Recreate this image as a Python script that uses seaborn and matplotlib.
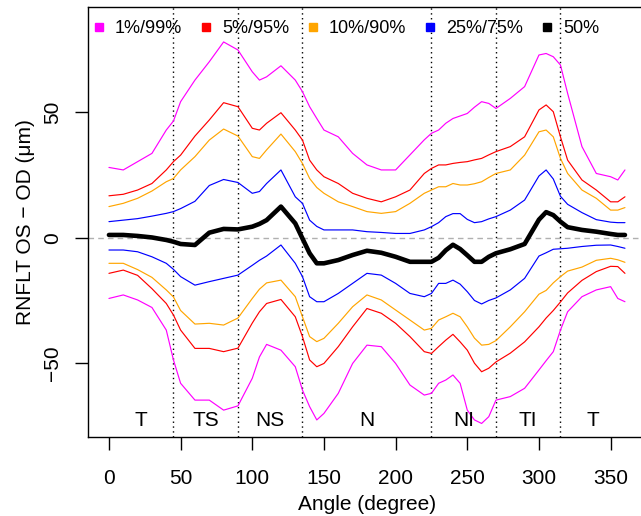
import matplotlib
matplotlib.use("Agg")
import matplotlib.pyplot as plt
from matplotlib.lines import Line2D
import seaborn as sns
import pandas as pd

# ---- data ----
angles = [0, 10, 20, 30, 40, 45, 50, 60, 70, 80, 90, 100, 105, 110, 120,
          130, 135, 140, 145, 150, 160, 170, 180, 190, 200, 210, 220, 225,
          230, 235, 240, 245, 250, 255, 260, 265, 270, 280, 290, 300, 305,
          310, 315, 320, 330, 340, 350, 355, 360]

p99 = [28.0, 27.0, 30.3, 33.6, 42.9, 46.5, 54.2, 62.8, 70.1, 78.0, 74.8, 66.1, 62.8, 64.1, 68.5,
       62.8, 58.2, 52.2, 47.5, 42.9, 40.2, 33.6, 29.0, 27.0, 27.0, 33.0, 39.0, 41.6,
       42.9, 45.6, 47.5, 48.5, 49.5, 52.0, 54.2, 53.5, 51.5, 55.5, 60.2, 72.8, 73.4,
       72.1, 68.8, 57.5, 36.3, 25.6, 24.3, 23.0, 27.0]
p95 = [16.7, 17.3, 19.0, 21.6, 27.0, 30.3, 32.9, 40.5, 46.9, 53.8, 52.2, 43.6, 42.9, 45.6, 49.8,
       42.9, 38.9, 30.9, 27.0, 24.3, 21.6, 17.7, 15.7, 14.3, 16.3, 19.0, 25.6, 27.6,
       29.0, 29.0, 29.6, 30.0, 30.3, 31.0, 31.6, 33.0, 34.3, 36.3, 40.2, 50.9, 52.9,
       50.2, 40.2, 30.9, 23.0, 19.0, 14.3, 14.3, 16.3]
p90 = [12.4, 13.7, 15.7, 18.6, 22.3, 23.6, 27.0, 32.3, 38.9, 43.3, 40.5, 32.3, 31.6, 35.0, 41.3,
       34.3, 29.6, 23.6, 20.0, 17.7, 14.3, 12.4, 10.4, 9.7, 10.4, 13.7, 17.7, 19.0,
       20.3, 20.3, 21.6, 21.0, 21.0, 21.5, 22.3, 24.0, 25.6, 27.0, 32.9, 42.2, 42.9,
       40.2, 31.6, 25.6, 19.0, 15.7, 11.0, 11.0, 12.0]
p75 = [6.4, 7.0, 7.6, 8.6, 9.7, 10.4, 11.6, 14.5, 20.8, 23.2, 22.0, 17.7, 18.4, 21.6, 27.0,
       16.3, 13.7, 7.0, 4.5, 3.1, 3.1, 3.1, 2.4, 2.1, 1.7, 1.7, 3.1, 4.4,
       6.0, 8.4, 9.6, 9.6, 7.3, 6.0, 6.4, 7.5, 8.4, 11.0, 15.0, 24.6, 27.0,
       23.4, 16.5, 13.3, 10.0, 7.2, 6.2, 6.0, 6.0]
p50 = [1.1, 1.1, 0.7, 0.1, -0.9, -1.6, -2.5, -2.9, 2.0, 3.5, 3.3, 4.4, 5.5, 7.0, 12.4,
       5.7, -0.3, -6.2, -10.2, -10.2, -8.9, -6.9, -5.2, -6.0, -7.6, -9.6, -9.6, -9.6,
       -8.0, -5.0, -2.8, -4.5, -7.0, -9.6, -9.6, -7.6, -6.2, -4.6, -2.5, 7.2, 10.2,
       9.0, 6.4, 4.2, 3.1, 2.4, 1.5, 1.1, 1.1]
p25 = [-4.9, -4.9, -5.6, -7.6, -10.2, -12.6, -15.5, -18.9, -17.5, -16.2, -14.9, -11.0, -9.0, -7.3, -2.9,
       -10.2, -15.5, -23.5, -25.5, -25.5, -22.2, -18.2, -14.2, -14.9, -18.2, -22.2, -23.5, -22.2,
       -18.2, -18.2, -16.9, -18.5, -21.5, -25.0, -26.4, -25.0, -24.0, -20.8, -16.2, -7.3, -6.0,
       -4.6, -4.4, -4.2, -3.5, -3.0, -2.9, -3.5, -4.2]
p10 = [-10.2, -10.2, -12.7, -15.8, -20.8, -23.6, -29.0, -34.4, -34.1, -34.8, -32.0, -24.2, -20.5, -18.0, -16.9,
       -23.5, -31.5, -39.4, -41.4, -40.1, -34.1, -27.5, -22.8, -24.8, -28.8, -32.8, -36.8, -36.1,
       -32.8, -31.5, -30.1, -31.5, -35.5, -40.0, -42.8, -42.5, -41.0, -35.5, -29.5, -22.5, -21.0,
       -18.0, -15.5, -13.3, -11.7, -9.0, -8.2, -8.8, -9.8]
p05 = [-14.2, -12.9, -15.0, -20.3, -26.2, -30.8, -36.8, -44.1, -44.1, -45.4, -44.0, -34.0, -29.5, -26.2, -24.6,
       -31.5, -39.4, -48.7, -51.4, -50.1, -43.4, -35.5, -28.2, -30.1, -34.1, -39.4, -45.4, -46.1,
       -43.4, -40.8, -38.5, -41.5, -44.8, -50.0, -53.4, -52.0, -49.5, -46.0, -41.5, -35.5, -32.0,
       -29.0, -25.6, -22.0, -17.0, -13.5, -11.4, -11.5, -14.2]
p01 = [-24.2, -22.8, -24.8, -27.8, -36.8, -48.7, -58.0, -64.7, -64.7, -68.7, -67.0, -56.0, -47.5, -42.5, -44.8,
       -51.4, -60.7, -67.3, -72.6, -70.0, -62.0, -50.1, -42.8, -43.4, -50.1, -58.7, -62.7, -62.0,
       -58.0, -56.7, -54.7, -58.0, -68.7, -72.6, -74.0, -71.3, -64.7, -63.3, -60.0, -52.7, -49.0,
       -45.4, -36.8, -29.5, -23.5, -20.8, -19.5, -24.2, -25.5]

legend_labels = ["1%/99%", "5%/95%", "10%/90%", "25%/75%", "50%"]
legend_colors = ["#FF00FF", "#FF0000", "#FFA500", "#0000FF", "#000000"]

region_names = ["T", "TS", "NS", "N", "NI", "TI", "T"]
region_centers = [22.5, 67.5, 112.5, 180, 247.5, 292.5, 337.5]
region_bounds = [45, 90, 135, 225, 270, 315]

xticks = [0, 50, 100, 150, 200, 250, 300, 350]
yticks = [-50, 0, 50]

# ---- figure ----
sns.set_theme(style="ticks")
plt.rcParams['font.family'] = ['Liberation Sans', 'DejaVu Sans']
plt.rcParams['text.color'] = 'black'
plt.rcParams['axes.labelcolor'] = 'black'
plt.rcParams['xtick.color'] = 'black'
plt.rcParams['ytick.color'] = 'black'

fig = plt.figure(figsize=(6.41, 5.16), dpi=100)
W, H = 641, 516
ax = fig.add_axes([88.3 / W, 1 - 437 / H, 557.3 / W, 429.7 / H])
ax.set_facecolor("white")

ax.axhline(0, color="#b0b0b0", ls=(0, (4, 3)), lw=1.0, zorder=0)
for b in region_bounds:
    ax.axvline(b, color="black", ls=(0, (1, 2.5)), lw=1.0, zorder=1)

thin = [(p01, legend_colors[0]), (p05, legend_colors[1]), (p10, legend_colors[2]),
        (p25, legend_colors[3]), (p75, legend_colors[3]), (p90, legend_colors[2]),
        (p95, legend_colors[1]), (p99, legend_colors[0])]
for vals, col in thin:
    df = pd.DataFrame({"angle": angles, "value": vals})
    sns.lineplot(data=df, x="angle", y="value", color=col, lw=0.85, ax=ax, zorder=3)
df50 = pd.DataFrame({"angle": angles, "value": p50})
sns.lineplot(data=df50, x="angle", y="value", color="black", lw=3.3, ax=ax, zorder=4)

for name, cx in zip(region_names, region_centers):
    ax.text(cx, -75.0, name, ha="center", va="baseline", fontsize=15, color="black")

ax.set_xlim(-14.4, 374.4)
ax.set_ylim(-79.4, 91.8)
ax.set_xticks(xticks)
ax.set_yticks(yticks)
ax.set_xticklabels([str(t) for t in xticks])
ax.set_yticklabels([str(t).replace("-", "\u2212") for t in yticks], rotation=90, va="center")

ax.tick_params(direction="out", length=9.4, width=1.0, colors="black", labelsize=15)
ax.tick_params(axis="x", pad=13.5)
ax.tick_params(axis="y", pad=9.4)
for s in ax.spines.values():
    s.set_visible(True)
    s.set_color("black")
    s.set_linewidth(1.0)

ax.set_xlabel("Angle (degree)", fontsize=15, labelpad=5, color="black")
ax.set_ylabel("RNFLT OS \u2212 OD (\u03bcm)", fontsize=15, labelpad=6, color="black")

handles = [Line2D([], [], marker="s", color=c, ls="none", markersize=6) for c in legend_colors]
leg = ax.legend(handles, legend_labels, ncol=5, frameon=False, loc="center left",
                bbox_to_anchor=(0.0084, 0.9495), borderpad=0, borderaxespad=0,
                handlelength=0.66, handletextpad=0.55, columnspacing=1.0, fontsize=13)
for t in leg.get_texts():
    t.set_color("black")

fig.savefig("out.png", dpi=100)
